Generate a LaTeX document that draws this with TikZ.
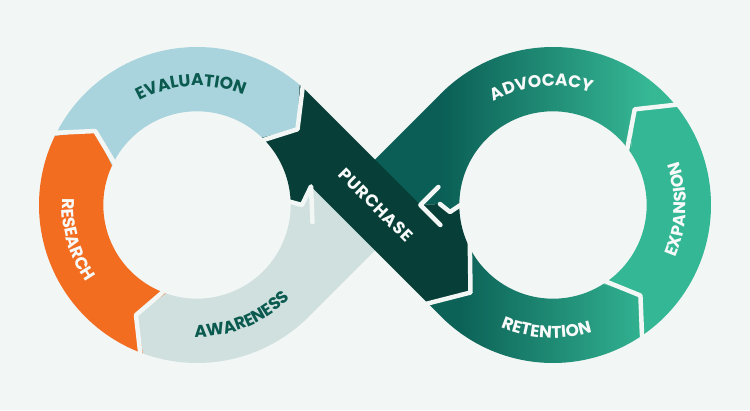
\documentclass[tikz,border=0pt]{standalone}
\usepackage{fontspec}
\newfontfamily\lblfont{Poppins}[LetterSpace=4]
\usetikzlibrary{calc,decorations.text}
\definecolor{bg}{HTML}{F2F6F5}
\definecolor{rsc}{HTML}{F36D21}
\definecolor{evc}{HTML}{A9D4DE}
\definecolor{awc}{HTML}{CFE0DF}
\definecolor{puc}{HTML}{073F38}
\definecolor{advdark}{HTML}{0A5E55}
\definecolor{advlight}{HTML}{36B895}
\definecolor{retdark}{HTML}{0C6257}
\definecolor{retlight}{HTML}{33B593}
\definecolor{exc}{HTML}{33B794}
\definecolor{dtext}{HTML}{0B5A4F}
\definecolor{wtext}{HTML}{F7FAF9}
\newcommand\lbl{\lblfont\bfseries\fontsize{17pt}{17pt}\selectfont}
\begin{document}
\begin{tikzpicture}[x=1pt,y=1pt,
  gap/.style={draw=bg, line width=4.5pt, line join=round, line cap=round},
  ringtext/.style={decorate, decoration={text along path, text align=center, text color=#1}}]
\useasboundingbox (0,0) rectangle (750,410);
\fill[bg] (0,0) rectangle (750,410);
% centres
\coordinate (LC) at (197,205);
\coordinate (RC) at (553,205);
% left ring boundaries
\coordinate (b1o) at ($(LC)+(250:158)$);
\coordinate (b1t) at ($(LC)+(241:125.85)$);
\coordinate (b1i) at ($(LC)+(250.5:93.7)$);
\coordinate (b2o) at ($(LC)+(154:158)$);
\coordinate (b2t) at ($(LC)+(144:125.85)$);
\coordinate (b2i) at ($(LC)+(155:93.7)$);
\coordinate (b3o) at ($(LC)+(49.5:158)$);
\coordinate (b3t) at ($(LC)+(37:125.85)$);
\coordinate (b3i) at ($(LC)+(46:93.7)$);
% crossing
\coordinate (Q1) at (397.7,182.3);
\coordinate (Q2) at (352.3,227.7);
\coordinate (TL) at (311,223.6);
\coordinate (TLb) at (312.5,187.9);
\coordinate (NL) at (302,205);
\coordinate (IL) at ($(LC)+(3:93.7)$);
\coordinate (TR) at (420.4,205);
\coordinate (MR) at (440,206);
\coordinate (NR) at (450,198);
\coordinate (IR) at ($(RC)+(178:93.7)$);
\coordinate (A1) at (438.4,223);
\coordinate (A2) at (440.4,185);
% purchase head
\coordinate (Hin) at ($(RC)+(207.5:93.7)$);
\coordinate (Htip) at (470.5,117.5);
\coordinate (Hout) at (428,106.6);
\coordinate (RT1) at ($(RC)+(225:158)$);
% right ring boundaries
\coordinate (b4o) at ($(RC)+(303:158)$);
\coordinate (b4t) at ($(RC)+(314:125.85)$);
\coordinate (b4i) at ($(RC)+(302.5:93.7)$);
\coordinate (b5o) at ($(RC)+(38:158)$);
\coordinate (b5t) at ($(RC)+(49.5:125.85)$);
\coordinate (b5i) at ($(RC)+(34:93.7)$);

% Awareness
\fill[awc] (b1o) arc[start angle=250, end angle=315, radius=158] -- (Q1) -- (Q2) -- (TL) -- (NL) -- (IL)
  arc[start angle=3, end angle=-109.5, radius=93.7] -- (b1t) -- cycle;
% Advocacy
\begin{scope}
\clip (b5o) arc[start angle=38, end angle=135, radius=158] -- (Q2) -- (Q1) -- (TR) -- (MR) -- (NR) -- (IR)
  arc[start angle=178, end angle=34, radius=93.7] -- (b5t) -- cycle;
\fill[advdark] (300,0) rectangle (441,410);
\shade[left color=advdark, right color=advlight] (440,0) rectangle (650,410);
\fill[advlight] (649,0) rectangle (750,410);
\end{scope}
% Research
\fill[rsc] (b1o) arc[start angle=250, end angle=154, radius=158] -- (b2t) -- (b2i)
  arc[start angle=155, end angle=250.5, radius=93.7] -- (b1t) -- cycle;
% Evaluation
\fill[evc] (b2o) arc[start angle=154, end angle=49.5, radius=158] -- (b3t) -- (b3i)
  arc[start angle=46, end angle=155, radius=93.7] -- (b2t) -- cycle;
% Purchase
\fill[puc] (b3o) arc[start angle=49.5, end angle=45, radius=158] -- (TR) -- (MR) -- (NR) -- (IR)
  arc[start angle=178, end angle=207.5, radius=93.7] -- (Htip) -- (Hout) -- (TL) -- (NL) -- (IL)
  arc[start angle=3, end angle=46, radius=93.7] -- (b3t) -- cycle;
% Retention
\begin{scope}
\clip (Hout) -- (RT1) arc[start angle=225, end angle=303, radius=158] -- (b4t) -- (b4i)
  arc[start angle=302.5, end angle=207.5, radius=93.7] -- (Htip) -- cycle;
\fill[retdark] (380,0) rectangle (461,410);
\shade[left color=retdark, right color=retlight] (460,0) rectangle (650,410);
\fill[retlight] (649,0) rectangle (750,410);
\end{scope}
% Expansion
\fill[exc] (b4o) arc[start angle=303, end angle=398, radius=158] -- (b5t) -- (b5i)
  arc[start angle=34, end angle=-57.5, radius=93.7] -- (b4t) -- cycle;

% gaps
\draw[gap] ($(LC)+(250:164)$) -- (b1t) -- ($(LC)+(250.5:88)$);
\draw[gap] ($(LC)+(154:164)$) -- (b2t) -- ($(LC)+(155:88)$);
\draw[gap] ($(LC)+(49.5:164)$) -- (b3t) -- ($(LC)+(46:88)$);
\draw[gap] ($(RC)+(303:164)$) -- (b4t) -- ($(RC)+(302.5:88)$);
\draw[gap] ($(RC)+(38:164)$) -- (b5t) -- ($(RC)+(34:88)$);
\draw[gap] ($(Htip)!1.12!(Hout)$) -- (Htip) -- ($(Htip)!1.12!(Hin)$);
\draw[gap] ($(LC)+(3:88)$) -- (NL) -- (TL) -- (TLb);
\draw[gap] ($(RC)+(178:88)$) -- (NR) -- (MR);
\draw[gap] (A1) -- (TR) -- (A2);

% labels
\path[ringtext=dtext, decoration={text={|\lbl|EVALUATION}}]
  ($(LC)+(135:119)$) arc[start angle=135, end angle=51, radius=119];
\path[ringtext=wtext, decoration={text={|\lbl|RESEARCH}}]
  ($(LC)+(163:135)$) arc[start angle=163, end angle=229, radius=135];
\path[ringtext=dtext, decoration={text={|\lbl|AWARENESS}}]
  ($(LC)+(255:132)$) arc[start angle=255, end angle=329, radius=132];
\path[ringtext=wtext, decoration={text={|\lbl|ADVOCACY}}]
  ($(RC)+(133:119)$) arc[start angle=133, end angle=58, radius=119];
\path[ringtext=wtext, decoration={text={|\lbl|EXPANSION}}]
  ($(RC)+(-38:133)$) arc[start angle=-38, end angle=34, radius=133];
\path[ringtext=wtext, decoration={text={|\lbl|RETENTION}}]
  ($(RC)+(231:133)$) arc[start angle=231, end angle=303, radius=133];
\node[rotate=-45, text=wtext, font=\lbl] (pur) at (376,205) {PURCHASE};
\end{tikzpicture}
\end{document}
